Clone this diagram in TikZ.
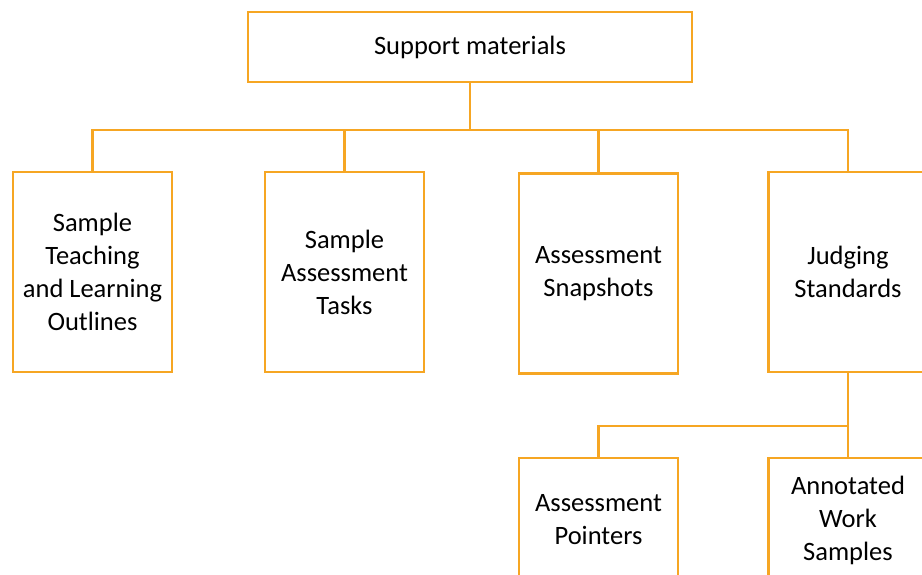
\documentclass[tikz,border=0pt]{standalone}
\usepackage{fontspec}
\setmainfont{Carlito}
\usetikzlibrary{positioning}
\definecolor{boxorange}{RGB}{246,166,35}

\begin{document}
\begin{tikzpicture}[
				x=1pt, y=-1pt,
				every node/.style={font=\fontsize{26.5}{33}\selectfont},
				topbox/.style={rectangle, draw=boxorange, line width=2.2pt, minimum width=444pt, minimum height=70pt, align=center, inner sep=0pt},
				itembox/.style={rectangle, draw=boxorange, line width=2.2pt, minimum width=159pt, minimum height=200pt, align=center, inner sep=0pt},
				subbox/.style={rectangle, draw=boxorange, line width=2.2pt, minimum width=159pt, minimum height=124pt, align=center, inner sep=0pt},
				link/.style={draw=boxorange, line width=2.2pt}
				]
				\clip (0,0) rectangle (922,574);
				% Nodes
				\node (support) [topbox] at (470,47) {Support materials};
				\node (outlines) [itembox] at (92.5,272) {Sample\\Teaching\\and Learning\\Outlines};
				\node (tasks) [itembox] at (344.5,272) {Sample\\Assessment\\Tasks};
				\node (snapshots) [itembox] at (598.5,273.5) {Assessment\\Snapshots};
				\node (standards) [itembox] at (848,272) {Judging\\Standards};
				\node (pointers) [subbox] at (598.5,520) {Assessment\\Pointers};
				\node (samples) [subbox] at (848,520) {Annotated\\Work\\Samples};
				\coordinate (bar) at (470,130);
				\coordinate (fork) at (848,426);
				
				% Connectors
				\draw [link, line width=2.8pt] (support.south) -- (bar);
				\draw [link] (outlines.north) |- (bar) -| (standards.north);
				\draw [link] (tasks.north) -- (tasks.north |- bar);
				\draw [link] (snapshots.north) -- (snapshots.north |- bar);
				\draw [link] (standards.south) -- (samples.north);
				\draw [link] (pointers.north) |- (fork);
			\end{tikzpicture}
\end{document}
